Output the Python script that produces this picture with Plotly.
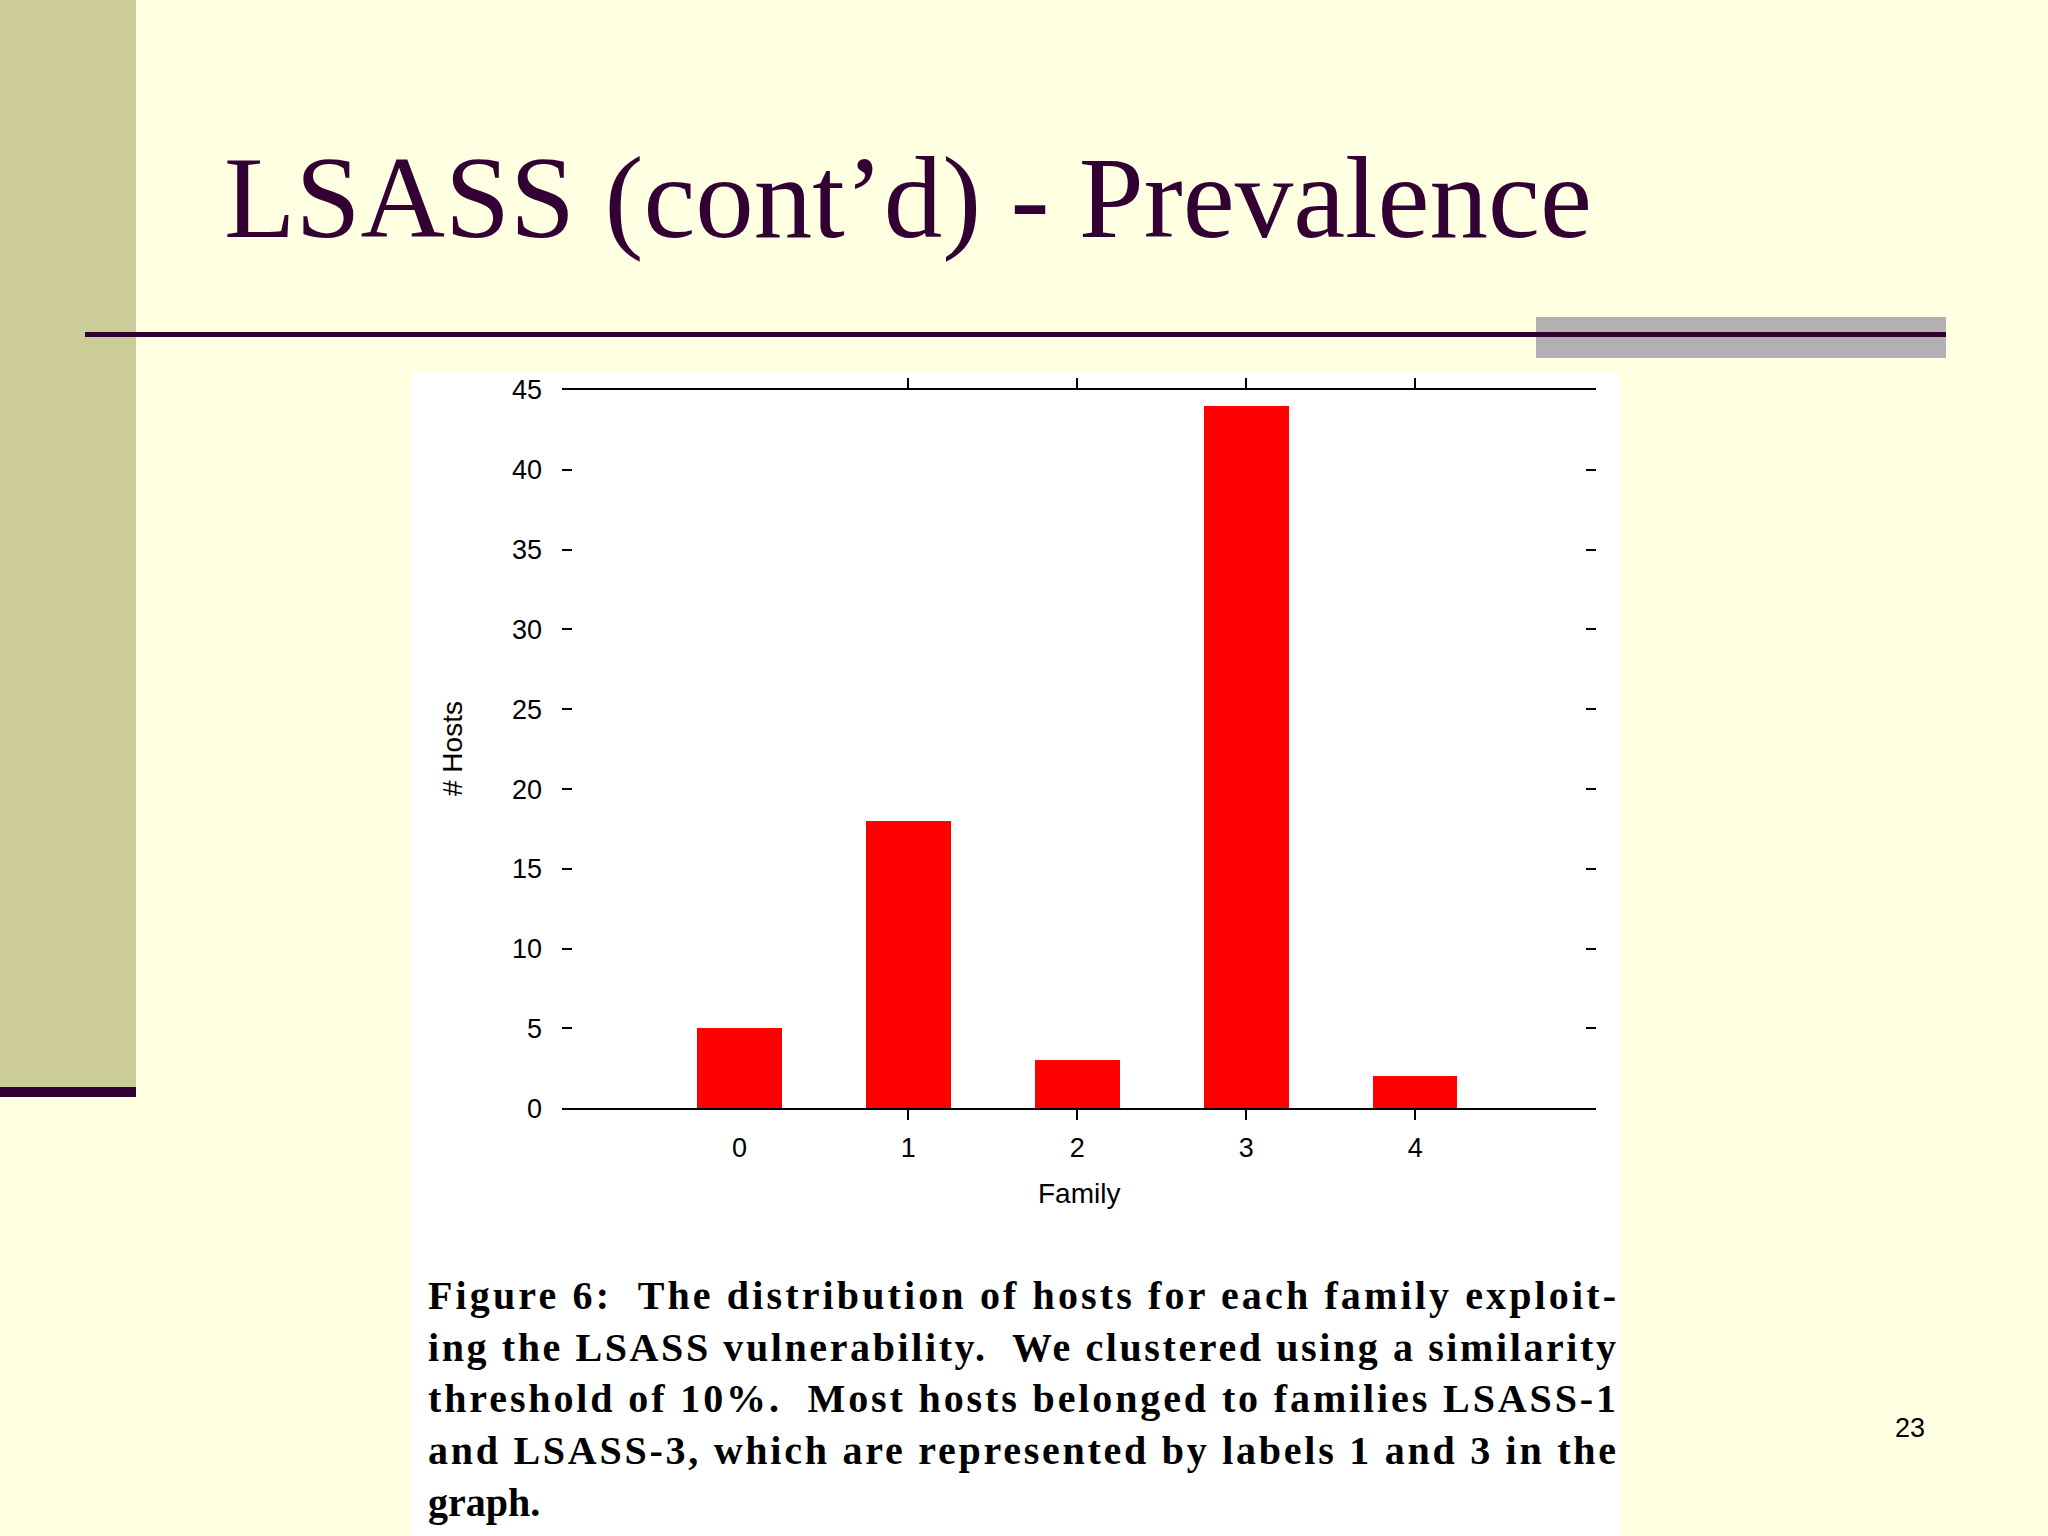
import json
import plotly.graph_objects as go

# ---- data ----
families = [0, 1, 2, 3, 4]
hosts = [5, 18, 3, 44, 2]
y_ticks = [0, 5, 10, 15, 20, 25, 30, 35, 40, 45]
title_text = "LSASS (cont\u2019d) - Prevalence"
caption_lines = [
    "Figure 6:\u00a0 The distribution of hosts for each family exploit-",
    "ing the LSASS vulnerability.\u00a0 We clustered using a similarity",
    "threshold of 10%.\u00a0 Most hosts belonged to families LSASS-1",
    "and LSASS-3, which are represented by labels 1 and 3 in the",
    "graph.",
]
page_number = "23"

W, H = 2048, 1536
BG = "#FFFFE1"
PURPLE = "#330033"


def px(x):
    return x / W


def py(y):
    return 1 - y / H


fig = go.Figure()
fig.add_trace(go.Bar(
    x=families, y=hosts, width=0.5,
    marker=dict(color="#FF0000", line=dict(width=0)),
    showlegend=False, hoverinfo="x+y",
))

shapes = [
    # left sidebar
    dict(type="rect", xref="paper", yref="paper", x0=px(0), x1=px(136), y0=py(1087), y1=py(0),
         fillcolor="#CCCC99", line=dict(width=0), layer="below"),
    dict(type="rect", xref="paper", yref="paper", x0=px(0), x1=px(136), y0=py(1097), y1=py(1087),
         fillcolor=PURPLE, line=dict(width=0), layer="below"),
    # gray block
    dict(type="rect", xref="paper", yref="paper", x0=px(1536), x1=px(1946), y0=py(358), y1=py(317),
         fillcolor="#B2B0B2", line=dict(width=0), layer="below"),
    # horizontal rule
    dict(type="rect", xref="paper", yref="paper", x0=px(85), x1=px(1946), y0=py(337), y1=py(332),
         fillcolor=PURPLE, line=dict(width=0), layer="below"),
    # white figure panel
    dict(type="rect", xref="paper", yref="paper", x0=px(411), x1=px(1620), y0=py(1536), y1=py(372),
         fillcolor="#FFFFFF", line=dict(width=0), layer="below"),
]

annotations = [
    dict(text=title_text, xref="paper", yref="paper", x=px(222), y=py(197),
         xanchor="left", yanchor="middle", showarrow=False,
         font=dict(family="Liberation Serif, Times New Roman, serif", size=117, color=PURPLE)),
    dict(text="# Hosts", xref="paper", yref="paper", x=px(453), y=py(749),
         xanchor="center", yanchor="middle", showarrow=False, textangle=-90,
         font=dict(family="Liberation Sans, Arial, sans-serif", size=28, color="#000000")),
    dict(text="Family", xref="paper", yref="paper", x=px(1079), y=py(1193),
         xanchor="center", yanchor="middle", showarrow=False,
         font=dict(family="Liberation Sans, Arial, sans-serif", size=28, color="#000000")),
    dict(text=page_number, xref="paper", yref="paper", x=px(1910), y=py(1428),
         xanchor="center", yanchor="middle", showarrow=False,
         font=dict(family="Liberation Sans, Arial, sans-serif", size=27, color="#000000")),
]

line_y = [1295, 1347, 1398, 1450, 1502]
for txt, yy in zip(caption_lines, line_y):
    annotations.append(dict(
        text="<b>" + txt + "</b>", xref="paper", yref="paper", x=px(426), y=py(yy),
        xanchor="left", yanchor="middle", align="left", showarrow=False,
        font=dict(family="Liberation Serif, Times New Roman, serif", size=40, color="#000000")))

fig.update_layout(
    width=W, height=H,
    margin=dict(l=0, r=0, t=0, b=0),
    paper_bgcolor=BG, plot_bgcolor="#FFFFFF",
    shapes=shapes, annotations=annotations,
    bargap=0,
    xaxis=dict(
        domain=[px(562), px(1596)], range=[-1.05, 5.07],
        tickvals=families, ticktext=[str(f) for f in families],
        ticks="", showline=True, linecolor="#000000", linewidth=2, mirror="ticks",
        showgrid=False, zeroline=False, ticklabelstandoff=14, automargin=False,
        minor=dict(tickvals=[1, 2, 3, 4], ticks="outside", ticklen=10, tickwidth=2, tickcolor="#000000"),
        tickfont=dict(family="Liberation Sans, Arial, sans-serif", size=27, color="#000000"),
    ),
    yaxis=dict(
        domain=[py(1108.3), py(390)], range=[0, 45],
        tickvals=y_ticks, ticks="inside", ticklen=10, tickwidth=2, tickcolor="#000000",
        showline=False, mirror="ticks", showgrid=False, zeroline=False,
        ticklabelstandoff=19, automargin=False,
        tickfont=dict(family="Liberation Sans, Arial, sans-serif", size=27, color="#000000"),
    ),
)

justify_lines = json.dumps(caption_lines[:4])
post_script = """
var gd = document.querySelector('.plotly-graph-div');
document.documentElement.style.margin = '0';
document.body.style.margin = '0';
document.body.style.padding = '0';
gd.style.position = 'absolute';
gd.style.left = '0px';
gd.style.top = '0px';
var JUST = %s;
function justifyCaption() {
  var els = gd.querySelectorAll('text.annotation-text');
  els.forEach(function (t) {
    if (JUST.indexOf(t.textContent) >= 0) {
      t.setAttribute('textLength', '1188');
      t.setAttribute('lengthAdjust', 'spacing');
    }
  });
}
justifyCaption();
gd.on('plotly_afterplot', justifyCaption);
setTimeout(justifyCaption, 50);
""" % justify_lines

fig.write_html("out.html", post_script=post_script, config={"displayModeBar": False})
